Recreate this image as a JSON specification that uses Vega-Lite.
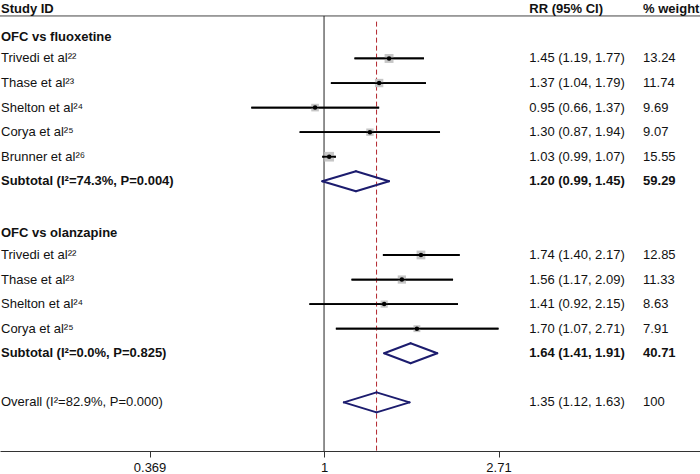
{
  "$schema": "https://vega.github.io/schema/vega-lite/v6.json",
  "width": 700,
  "height": 451,
  "autosize": {"type": "none"},
  "padding": {"left": 0, "top": 0, "right": 0, "bottom": 23},
  "background": "white",
  "config": {
    "view": {"stroke": null},
    "font": "Liberation Sans",
    "axisX": {"grid": false, "labelFont": "Liberation Sans", "labelFontSize": 13, "labelColor": "#111", "tickSize": 6, "tickColor": "#333", "domainColor": "#333", "labelPadding": 4, "labelFlush": false, "labelOverlap": false}
  },
  "datasets": {
    "studies": [
      {"row": 2, "study": "Trivedi et al²²", "est": 1.45, "lo": 1.19, "hi": 1.77, "ci": "1.45 (1.19, 1.77)", "weight": 13.24},
      {"row": 3, "study": "Thase et al²³", "est": 1.37, "lo": 1.04, "hi": 1.79, "ci": "1.37 (1.04, 1.79)", "weight": 11.74},
      {"row": 4, "study": "Shelton et al²⁴", "est": 0.95, "lo": 0.66, "hi": 1.37, "ci": "0.95 (0.66, 1.37)", "weight": 9.69},
      {"row": 5, "study": "Corya et al²⁵", "est": 1.30, "lo": 0.87, "hi": 1.94, "ci": "1.30 (0.87, 1.94)", "weight": 9.07},
      {"row": 6, "study": "Brunner et al²⁶", "est": 1.03, "lo": 0.99, "hi": 1.07, "ci": "1.03 (0.99, 1.07)", "weight": 15.55},
      {"row": 10, "study": "Trivedi et al²²", "est": 1.74, "lo": 1.40, "hi": 2.17, "ci": "1.74 (1.40, 2.17)", "weight": 12.85},
      {"row": 11, "study": "Thase et al²³", "est": 1.56, "lo": 1.17, "hi": 2.09, "ci": "1.56 (1.17, 2.09)", "weight": 11.33},
      {"row": 12, "study": "Shelton et al²⁴", "est": 1.41, "lo": 0.92, "hi": 2.15, "ci": "1.41 (0.92, 2.15)", "weight": 8.63},
      {"row": 13, "study": "Corya et al²⁵", "est": 1.70, "lo": 1.07, "hi": 2.71, "ci": "1.70 (1.07, 2.71)", "weight": 7.91}
    ],
    "pooled": [
      {"row": 7, "kind": "subtotal", "label": "Subtotal (I²=74.3%, P=0.004)", "est": 1.20, "lo": 0.99, "hi": 1.45, "ci": "1.20 (0.99, 1.45)", "weight": 59.29},
      {"row": 14, "kind": "subtotal", "label": "Subtotal (I²=0.0%, P=0.825)", "est": 1.64, "lo": 1.41, "hi": 1.91, "ci": "1.64 (1.41, 1.91)", "weight": 40.71},
      {"row": 16, "kind": "overall", "label": "Overall (I²=82.9%, P=0.000)", "est": 1.35, "lo": 1.12, "hi": 1.63, "ci": "1.35 (1.12, 1.63)", "weight": 100}
    ],
    "groups": [
      {"row": 1, "label": "OFC vs fluoxetine"},
      {"row": 9, "label": "OFC vs olanzapine"}
    ],
    "headers": [
      {"row": 0, "label": "Study ID", "ci": "RR (95% CI)", "wt": "% weight"}
    ]
  },
  "layer": [
    {
      "data": {"name": "studies"},
      "mark": {"type": "rule", "color": "#000", "strokeWidth": 1.8},
      "encoding": {
        "x": {"field": "lo", "type": "quantitative", "title": null, "scale": {"type": "log", "domain": [0.157, 8.57], "nice": false},
              "axis": {"values": [0.369, 1, 2.71], "format": "~g", "title": null}},
        "x2": {"field": "hi"},
        "y": {"field": "row", "type": "quantitative", "title": null, "scale": {"domain": [-0.38, 17.98], "nice": false, "zero": false, "reverse": true}, "axis": null}
      }
    },
    {
      "data": {"values": [{}]},
      "mark": {"type": "rule", "color": "#444", "strokeWidth": 1},
      "encoding": {
        "y": {"datum": 0.27, "type": "quantitative"}
      }
    },
    {
      "data": {"values": [{}]},
      "mark": {"type": "rule", "color": "#222", "strokeWidth": 1},
      "encoding": {
        "x": {"datum": 1, "type": "quantitative"},
        "y": {"datum": 0.27, "type": "quantitative"},
        "y2": {"datum": 17.98}
      }
    },
    {
      "data": {"name": "pooled"},
      "transform": [{"filter": "datum.kind == 'overall'"}],
      "mark": {"type": "rule", "color": "#b3262e", "strokeWidth": 1, "strokeDash": [5, 3]},
      "encoding": {
        "x": {"field": "est", "type": "quantitative", "title": null},
        "y": {"datum": 0.5, "type": "quantitative"},
        "y2": {"datum": 17.98}
      }
    },
    {
      "data": {"name": "studies"},
      "mark": {"type": "point", "shape": "square", "filled": true, "color": "#c6c6c6", "opacity": 1},
      "encoding": {
        "x": {"field": "est", "type": "quantitative", "title": null},
        "y": {"field": "row", "type": "quantitative", "title": null},
        "size": {"field": "weight", "type": "quantitative", "scale": {"domain": [0, 16], "range": [0, 96], "zero": true}, "legend": null}
      }
    },
    {
      "data": {"name": "studies"},
      "mark": {"type": "rule", "color": "#000", "strokeWidth": 1.8},
      "encoding": {
        "x": {"field": "lo", "type": "quantitative", "title": null},
        "x2": {"field": "hi"},
        "y": {"field": "row", "type": "quantitative", "title": null}
      }
    },
    {
      "data": {"name": "studies"},
      "mark": {"type": "point", "shape": "circle", "filled": true, "color": "#000", "opacity": 1, "size": 20},
      "encoding": {
        "x": {"field": "est", "type": "quantitative", "title": null},
        "y": {"field": "row", "type": "quantitative", "title": null}
      }
    },
    {
      "data": {"name": "pooled"},
      "mark": {"type": "rule", "color": "#1c1c6e", "strokeWidth": 2, "strokeCap": "round", "y2Offset": -10},
      "encoding": {
        "x": {"field": "lo", "type": "quantitative", "title": null},
        "x2": {"field": "est"},
        "y": {"field": "row", "type": "quantitative", "title": null},
        "y2": {"field": "row"}
      }
    },
    {
      "data": {"name": "pooled"},
      "mark": {"type": "rule", "color": "#1c1c6e", "strokeWidth": 2, "strokeCap": "round", "y2Offset": 10},
      "encoding": {
        "x": {"field": "lo", "type": "quantitative", "title": null},
        "x2": {"field": "est"},
        "y": {"field": "row", "type": "quantitative", "title": null},
        "y2": {"field": "row"}
      }
    },
    {
      "data": {"name": "pooled"},
      "mark": {"type": "rule", "color": "#1c1c6e", "strokeWidth": 2, "strokeCap": "round", "y2Offset": -10},
      "encoding": {
        "x": {"field": "hi", "type": "quantitative", "title": null},
        "x2": {"field": "est"},
        "y": {"field": "row", "type": "quantitative", "title": null},
        "y2": {"field": "row"}
      }
    },
    {
      "data": {"name": "pooled"},
      "mark": {"type": "rule", "color": "#1c1c6e", "strokeWidth": 2, "strokeCap": "round", "y2Offset": 10},
      "encoding": {
        "x": {"field": "hi", "type": "quantitative", "title": null},
        "x2": {"field": "est"},
        "y": {"field": "row", "type": "quantitative", "title": null},
        "y2": {"field": "row"}
      }
    },
    {
      "data": {"name": "studies"},
      "mark": {"type": "text", "align": "left", "baseline": "middle", "fontSize": 13, "color": "#111", "dx": 1},
      "encoding": {
        "x": {"datum": 0.157, "type": "quantitative"},
        "y": {"field": "row", "type": "quantitative", "title": null},
        "text": {"field": "study", "type": "nominal"}
      }
    },
    {
      "data": {"name": "studies"},
      "mark": {"type": "text", "align": "left", "baseline": "middle", "fontSize": 13, "color": "#111"},
      "encoding": {
        "x": {"datum": 3.232, "type": "quantitative"},
        "y": {"field": "row", "type": "quantitative", "title": null},
        "text": {"field": "ci", "type": "nominal"}
      }
    },
    {
      "data": {"name": "studies"},
      "mark": {"type": "text", "align": "left", "baseline": "middle", "fontSize": 13, "color": "#111"},
      "encoding": {
        "x": {"datum": 6.19, "type": "quantitative"},
        "y": {"field": "row", "type": "quantitative", "title": null},
        "text": {"field": "weight", "type": "quantitative", "format": "~g"}
      }
    },
    {
      "data": {"name": "groups"},
      "mark": {"type": "text", "align": "left", "baseline": "middle", "fontSize": 13, "fontWeight": "bold", "color": "#111", "dx": 1, "dy": 3},
      "encoding": {
        "x": {"datum": 0.157, "type": "quantitative"},
        "y": {"field": "row", "type": "quantitative", "title": null},
        "text": {"field": "label", "type": "nominal"}
      }
    },
    {
      "data": {"name": "pooled"},
      "transform": [{"filter": "datum.kind == 'subtotal'"}],
      "mark": {"type": "text", "align": "left", "baseline": "middle", "fontSize": 13, "fontWeight": "bold", "color": "#111", "dx": 1},
      "encoding": {
        "x": {"datum": 0.157, "type": "quantitative"},
        "y": {"field": "row", "type": "quantitative", "title": null},
        "text": {"field": "label", "type": "nominal"}
      }
    },
    {
      "data": {"name": "pooled"},
      "transform": [{"filter": "datum.kind == 'subtotal'"}],
      "mark": {"type": "text", "align": "left", "baseline": "middle", "fontSize": 13, "fontWeight": "bold", "color": "#111"},
      "encoding": {
        "x": {"datum": 3.232, "type": "quantitative"},
        "y": {"field": "row", "type": "quantitative", "title": null},
        "text": {"field": "ci", "type": "nominal"}
      }
    },
    {
      "data": {"name": "pooled"},
      "transform": [{"filter": "datum.kind == 'subtotal'"}],
      "mark": {"type": "text", "align": "left", "baseline": "middle", "fontSize": 13, "fontWeight": "bold", "color": "#111"},
      "encoding": {
        "x": {"datum": 6.19, "type": "quantitative"},
        "y": {"field": "row", "type": "quantitative", "title": null},
        "text": {"field": "weight", "type": "quantitative", "format": "~g"}
      }
    },
    {
      "data": {"name": "pooled"},
      "transform": [{"filter": "datum.kind == 'overall'"}],
      "mark": {"type": "text", "align": "left", "baseline": "middle", "fontSize": 13, "color": "#111", "dx": 1},
      "encoding": {
        "x": {"datum": 0.157, "type": "quantitative"},
        "y": {"field": "row", "type": "quantitative", "title": null},
        "text": {"field": "label", "type": "nominal"}
      }
    },
    {
      "data": {"name": "pooled"},
      "transform": [{"filter": "datum.kind == 'overall'"}],
      "mark": {"type": "text", "align": "left", "baseline": "middle", "fontSize": 13, "color": "#111"},
      "encoding": {
        "x": {"datum": 3.232, "type": "quantitative"},
        "y": {"field": "row", "type": "quantitative", "title": null},
        "text": {"field": "ci", "type": "nominal"}
      }
    },
    {
      "data": {"name": "pooled"},
      "transform": [{"filter": "datum.kind == 'overall'"}],
      "mark": {"type": "text", "align": "left", "baseline": "middle", "fontSize": 13, "color": "#111"},
      "encoding": {
        "x": {"datum": 6.19, "type": "quantitative"},
        "y": {"field": "row", "type": "quantitative", "title": null},
        "text": {"field": "weight", "type": "quantitative", "format": "~g"}
      }
    },
    {
      "data": {"name": "headers"},
      "mark": {"type": "text", "align": "left", "baseline": "middle", "fontSize": 13, "fontWeight": "bold", "color": "#111", "dx": 1},
      "encoding": {
        "x": {"datum": 0.157, "type": "quantitative"},
        "y": {"field": "row", "type": "quantitative", "title": null},
        "text": {"field": "label", "type": "nominal"}
      }
    },
    {
      "data": {"name": "headers"},
      "mark": {"type": "text", "align": "left", "baseline": "middle", "fontSize": 13, "fontWeight": "bold", "color": "#111"},
      "encoding": {
        "x": {"datum": 3.232, "type": "quantitative"},
        "y": {"field": "row", "type": "quantitative", "title": null},
        "text": {"field": "ci", "type": "nominal"}
      }
    },
    {
      "data": {"name": "headers"},
      "mark": {"type": "text", "align": "left", "baseline": "middle", "fontSize": 13, "fontWeight": "bold", "color": "#111"},
      "encoding": {
        "x": {"datum": 6.19, "type": "quantitative"},
        "y": {"field": "row", "type": "quantitative", "title": null},
        "text": {"field": "wt", "type": "nominal"}
      }
    }
  ]
}
